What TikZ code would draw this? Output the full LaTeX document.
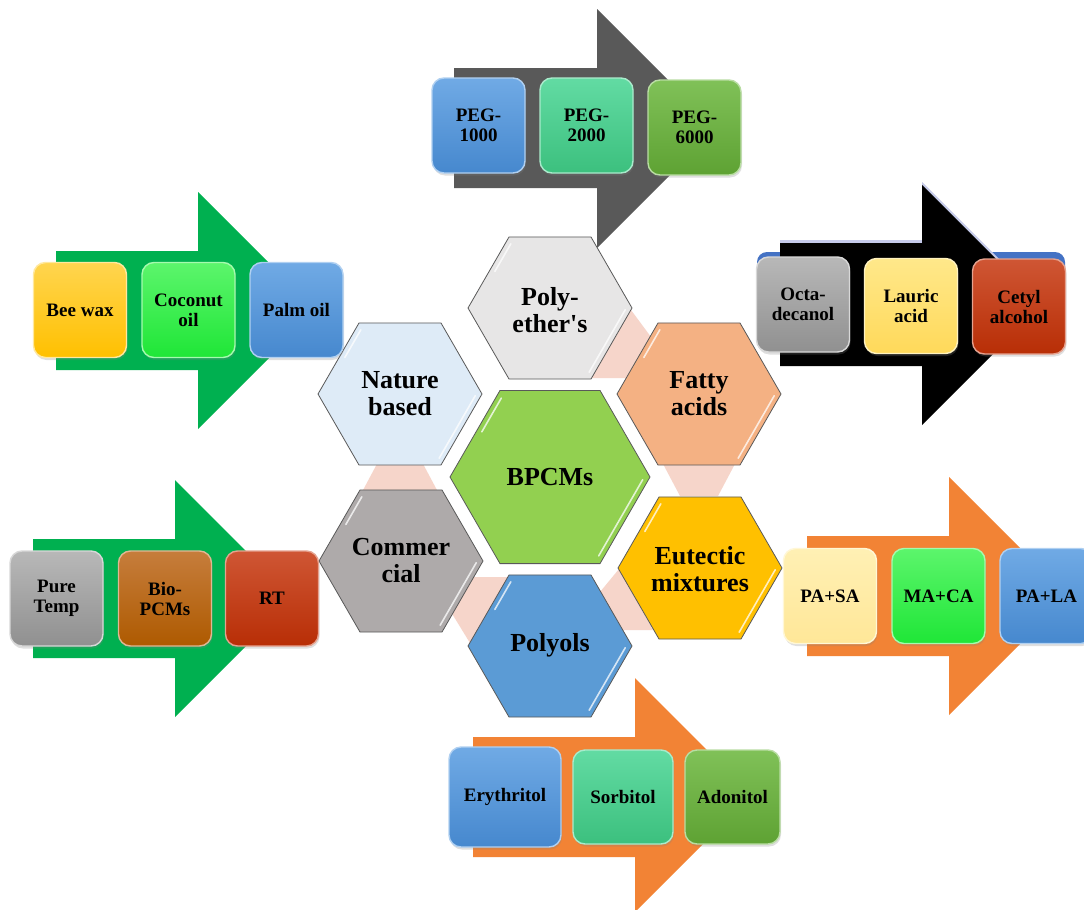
\documentclass[tikz,border=0pt]{standalone}
\usepackage{fontspec}
\setmainfont{Liberation Serif}
\usetikzlibrary{shadows}
\definecolor{arrGray}{HTML}{595959}
\definecolor{arrGreen}{HTML}{00B050}
\definecolor{arrOrange}{HTML}{F28335}
\definecolor{lavender}{HTML}{C5CAE9}
\definecolor{shadowBlue}{HTML}{4472C4}
\definecolor{pinkLink}{HTML}{F6D5CA}
\definecolor{hexPoly}{HTML}{E7E6E6}
\definecolor{hexNature}{HTML}{DEEBF7}
\definecolor{hexCore}{HTML}{92D050}
\definecolor{hexFatty}{HTML}{F4B183}
\definecolor{hexComm}{HTML}{AEAAAA}
\definecolor{hexEut}{HTML}{FFC000}
\definecolor{hexPolyol}{HTML}{5B9BD5}
\definecolor{blueT}{HTML}{70AAE5}
\definecolor{blueB}{HTML}{4688CE}
\definecolor{mintT}{HTML}{62DBA3}
\definecolor{mintB}{HTML}{3CC07E}
\definecolor{leafT}{HTML}{80C158}
\definecolor{leafB}{HTML}{5EA233}
\definecolor{grayT}{HTML}{B8B8B8}
\definecolor{grayB}{HTML}{909090}
\definecolor{lemonT}{HTML}{FFE88A}
\definecolor{lemonB}{HTML}{FFD95A}
\definecolor{redT}{HTML}{CF5634}
\definecolor{redB}{HTML}{B82E06}
\definecolor{goldT}{HTML}{FFD54F}
\definecolor{goldB}{HTML}{FFC000}
\definecolor{limeT}{HTML}{5CF56C}
\definecolor{limeB}{HTML}{1FE637}
\definecolor{brownT}{HTML}{C67D3C}
\definecolor{brownB}{HTML}{AE5A00}
\definecolor{creamT}{HTML}{FFF0B4}
\definecolor{creamB}{HTML}{FFE798}
\tikzset{
  hexline/.style={draw=arrGray, line width=0.8pt},
  hexhi/.style={draw=white, line width=1.6pt, opacity=0.75, line cap=round},
  hextext/.style={align=center, inner sep=0pt, font=\fontsize{26}{27}\selectfont\bfseries},
  itembox/.style={rounded corners=12pt, minimum width=93pt, minimum height=95pt,
    inner sep=2pt, align=center, line width=1.4pt,
    font=\fontsize{19}{20}\selectfont\bfseries,
    drop shadow={opacity=0.25, shadow xshift=1pt, shadow yshift=-2.5pt}},
  boxcol/.style 2 args={top color=#1, bottom color=#2, draw=#1!55!white},
}
\newcommand\HexShape[4]{%
  \filldraw[hexline, fill=#4] ({#1-#3},#2) -- ({#1-#3/2},{#2-0.866*#3}) -- ({#1+#3/2},{#2-0.866*#3}) -- ({#1+#3},#2) -- ({#1+#3/2},{#2+0.866*#3}) -- ({#1-#3/2},{#2+0.866*#3}) -- cycle;
  \draw[hexhi] ({#1+#3-0.06*#3/2-4.3},{#2+0.06*0.866*#3-2.5}) -- ({#1+#3-0.94*#3/2-4.3},{#2+0.94*0.866*#3-2.5});
  \draw[hexhi] ({#1-#3+0.55*#3/2+4.3},{#2-0.55*0.866*#3+2.5}) -- ({#1-#3+0.94*#3/2+4.3},{#2-0.94*0.866*#3+2.5});
}
\newcommand\BlockArrow[7]{%
  \fill[#7] (#1,#2) -- (#4,#2) -- (#4,#5) -- ({#4+(#6-#5)/2},{(#5+#6)/2}) -- (#4,#6) -- (#4,#3) -- (#1,#3) -- cycle;
}
\begin{document}
\begin{tikzpicture}[x=1pt, y=-1pt]
\useasboundingbox (0,0) rectangle (1084,910);
\fill[white] (0,0) rectangle (1084,910);
\clip (0,0) rectangle (1084,910);

% ---- block arrows ----
\BlockArrow{454}{68}{188}{597}{9}{248}{arrGray}
\fill[shadowBlue, rounded corners=10pt] (757,252) rectangle (1065,345);
\BlockArrow{780}{240}{363}{922}{182}{422}{lavender}
\BlockArrow{780}{243}{366}{922}{185}{425}{black}
\BlockArrow{56}{251}{370}{198}{192}{429}{arrGreen}
\BlockArrow{33}{539}{658}{175}{480}{717}{arrGreen}
\BlockArrow{807}{536}{656}{949}{477}{715}{arrOrange}
\BlockArrow{473}{737}{857}{635}{678}{912}{arrOrange}

% ---- pink links ----
\fill[pinkLink] (631,310) -- (651,337) -- (628,378) -- (591,378) -- cycle;
\fill[pinkLink] (378,462) -- (422,462) -- (438,492) -- (362,492) -- cycle;
\fill[pinkLink] (662,462) -- (736,462) -- (718,496) -- (680,496) -- cycle;
\fill[pinkLink] (472,577) -- (510,577) -- (470,643) -- (451,612) -- cycle;
\fill[pinkLink] (619,569) -- (653,630) -- (623,630) -- (600,592) -- cycle;

% ---- hexagons ----
\HexShape{550}{308}{82}{hexPoly}
\HexShape{400}{394}{82}{hexNature}
\HexShape{699}{394}{82}{hexFatty}
\HexShape{550}{477}{100}{hexCore}
\HexShape{401}{561}{82}{hexComm}
\HexShape{700}{568}{82}{hexEut}
\HexShape{550}{646}{82}{hexPolyol}

\node[hextext] (polyether) at (550,310) {Poly-\\ether\textquotesingle s};
\node[hextext] (nature) at (400,394) {Nature\\based};
\node[hextext] (fatty) at (699,394) {Fatty\\acids};
\node[hextext] (bpcms) at (550,477) {BPCMs};
\node[hextext] (commercial) at (401,561) {Commer\\cial};
\node[hextext] (eutectic) at (700,569) {Eutectic\\mixtures};
\node[hextext] (polyols) at (550,645) {Polyols};

% ---- item boxes ----
\node[itembox, boxcol={blueT}{blueB}] (peg1) at (478.5,125.5) {PEG-\\1000};
\node[itembox, boxcol={mintT}{mintB}] (peg2) at (586.5,125.5) {PEG-\\2000};
\node[itembox, boxcol={leafT}{leafB}] (peg6) at (694.5,127.5) {PEG-\\6000};

\node[itembox, boxcol={grayT}{grayB}] (octa) at (803,304.5) {Octa-\\decanol};
\node[itembox, boxcol={lemonT}{lemonB}] (lauric) at (911,306) {Lauric\\acid};
\node[itembox, boxcol={redT}{redB}] (cetyl) at (1019,306.5) {Cetyl\\alcohol};

\node[itembox, boxcol={goldT}{goldB}] (beewax) at (80,310) {Bee wax};
\node[itembox, boxcol={limeT}{limeB}] (coconut) at (188.5,310) {Coconut\\oil};
\node[itembox, boxcol={blueT}{blueB}] (palm) at (296.5,310) {Palm oil};

\node[itembox, boxcol={grayT}{grayB}] (puretemp) at (56.5,598.5) {Pure\\Temp};
\node[itembox, boxcol={brownT}{brownB}] (biopcm) at (165,598.5) {Bio-\\PCMs};
\node[itembox, boxcol={redT}{redB}] (rt) at (272,598.5) {RT};

\node[itembox, boxcol={creamT}{creamB}] (pasa) at (830,596) {PA+SA};
\node[itembox, boxcol={limeT}{limeB}] (maca) at (938.5,596) {MA+CA};
\node[itembox, boxcol={blueT}{blueB}] (pala) at (1046.5,596) {PA+LA};

\node[itembox, boxcol={blueT}{blueB}, minimum width=112pt, minimum height=100pt] (ery) at (505,797) {Erythritol};
\node[itembox, boxcol={mintT}{mintB}, minimum width=100pt, minimum height=94pt] (sorb) at (623,797) {Sorbitol};
\node[itembox, boxcol={leafT}{leafB}, minimum width=95pt, minimum height=94pt] (adon) at (732.5,797) {Adonitol};
\end{tikzpicture}
\end{document}
